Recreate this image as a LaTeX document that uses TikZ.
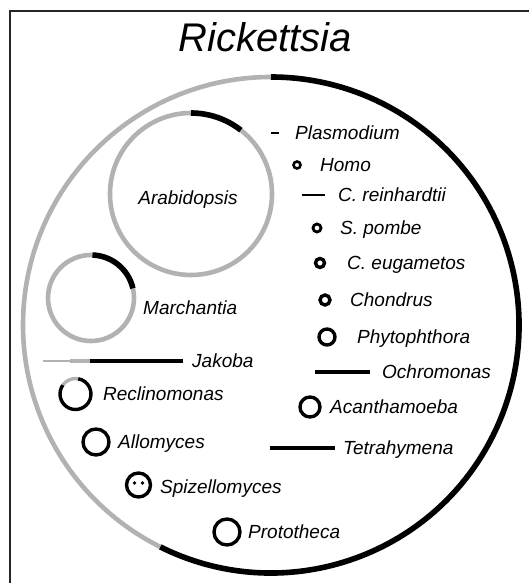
\documentclass[tikz,border=0pt]{standalone}
\usepackage{fontspec}
\setmainfont{Liberation Sans}
\usetikzlibrary{positioning}
\tikzset{
  kept/.style={draw=black, line width=5.6pt},
  lost/.style={draw=black!30, line width=4.6pt},
  ring/.style={draw=black, line width=3.4pt},
  bar/.style={draw=black, line width=3.2pt},
  frame/.style={draw=black!85, line width=2pt},
  taxon/.style={font=\fontsize{19}{22}\selectfont\itshape, anchor=base west, inner sep=0pt, yshift=-6.5pt},
  title/.style={font=\fontsize{40}{44}\selectfont\itshape, inner sep=0pt}
}

\begin{document}
\begin{tikzpicture}[x=1pt,y=1pt]
  \useasboundingbox (0,0) rectangle (529,583);
  \fill[white] (0,0) rectangle (529,583);
  \draw[frame] (10,0)--(10,572)--(529,572);
  \node[title] (rick) at (265,546) {Rickettsia};
  % Rickettsia genome
  \draw[lost] (271,258) ++(90:248) arc[start angle=90, end angle=243.5, radius=248];
  \draw[kept] (271,258) ++(243.5:248) arc[start angle=243.5, end angle=450, radius=248];
  % Arabidopsis and Marchantia
  \draw[lost] (191,389) circle[radius=81];
  \draw[kept] (191,389) ++(52:81) arc[start angle=52, end angle=90, radius=81];
  \node[font=\fontsize{19}{22}\selectfont\itshape, inner sep=0pt] (arab) at (188,383) {Arabidopsis};
  \draw[lost] (91,285) circle[radius=43];
  \draw[kept] (91,285) ++(13:43) arc[start angle=13, end angle=88, radius=43];
  \node[taxon] (march) at (143,275) {Marchantia};
  % Jakoba
  \draw[black!30, line width=2pt] (43,222)--(70,222);
  \draw[black!30, line width=3.6pt] (70,222)--(90,222);
  \draw[black, line width=4pt] (90,222)--(183,222);
  \node[taxon] (jak) at (192,222) {Jakoba};
  % small rings, left side
  \draw[black!30, line width=3.4pt] (75.5,189) ++(80:15.5) arc[start angle=80, end angle=145, radius=15.5];
  \draw[ring] (75.5,189) ++(145:15.5) arc[start angle=145, end angle=440, radius=15.5];
  \node[taxon] (recl) at (103,189) {Reclinomonas};
  \draw[ring] (96,141) circle[radius=13];
  \node[taxon] (allo) at (118,141) {Allomyces};
  \draw[ring] (138.5,98) circle[radius=12];
  \foreach \x in {134.5,142.5}{\fill (\x,100) circle[radius=1.8];}
  \node[taxon] (spiz) at (160,96) {Spizellomyces};
  \draw[ring] (227,51) circle[radius=13];
  \node[taxon] (prot) at (248,51) {Prototheca};
  % right side
  \draw[black, line width=2.4pt] (271,450)--(279,450);
  \node[taxon] (plas) at (295,450) {Plasmodium};
  \draw[black, line width=2.6pt] (297,418) circle[radius=3.5];
  \node[taxon] (homo) at (320,418) {Homo};
  \draw[black, line width=2.6pt] (302,388)--(325,388);
  \node[taxon] (crei) at (338,388) {C. reinhardtii};
  \draw[black, line width=2.8pt] (317,355) circle[radius=4];
  \node[taxon] (spom) at (340,355) {S. pombe};
  \draw[ring] (320,320) circle[radius=4.5];
  \node[taxon] (ceug) at (347,320) {C. eugametos};
  \draw[ring] (325,283) circle[radius=5];
  \node[taxon] (chon) at (350,283) {Chondrus};
  \draw[ring] (327,246) circle[radius=8];
  \node[taxon] (phyt) at (357,246) {Phytophthora};
  \draw[bar] (315,211)--(370,211);
  \node[taxon] (ochr) at (382,211) {Ochromonas};
  \draw[ring] (310,176) circle[radius=10];
  \node[taxon] (acan) at (330,176) {Acanthamoeba};
  \draw[bar] (270,135)--(335,135);
  \node[taxon] (tetr) at (343,135) {Tetrahymena};
\end{tikzpicture}
\end{document}
